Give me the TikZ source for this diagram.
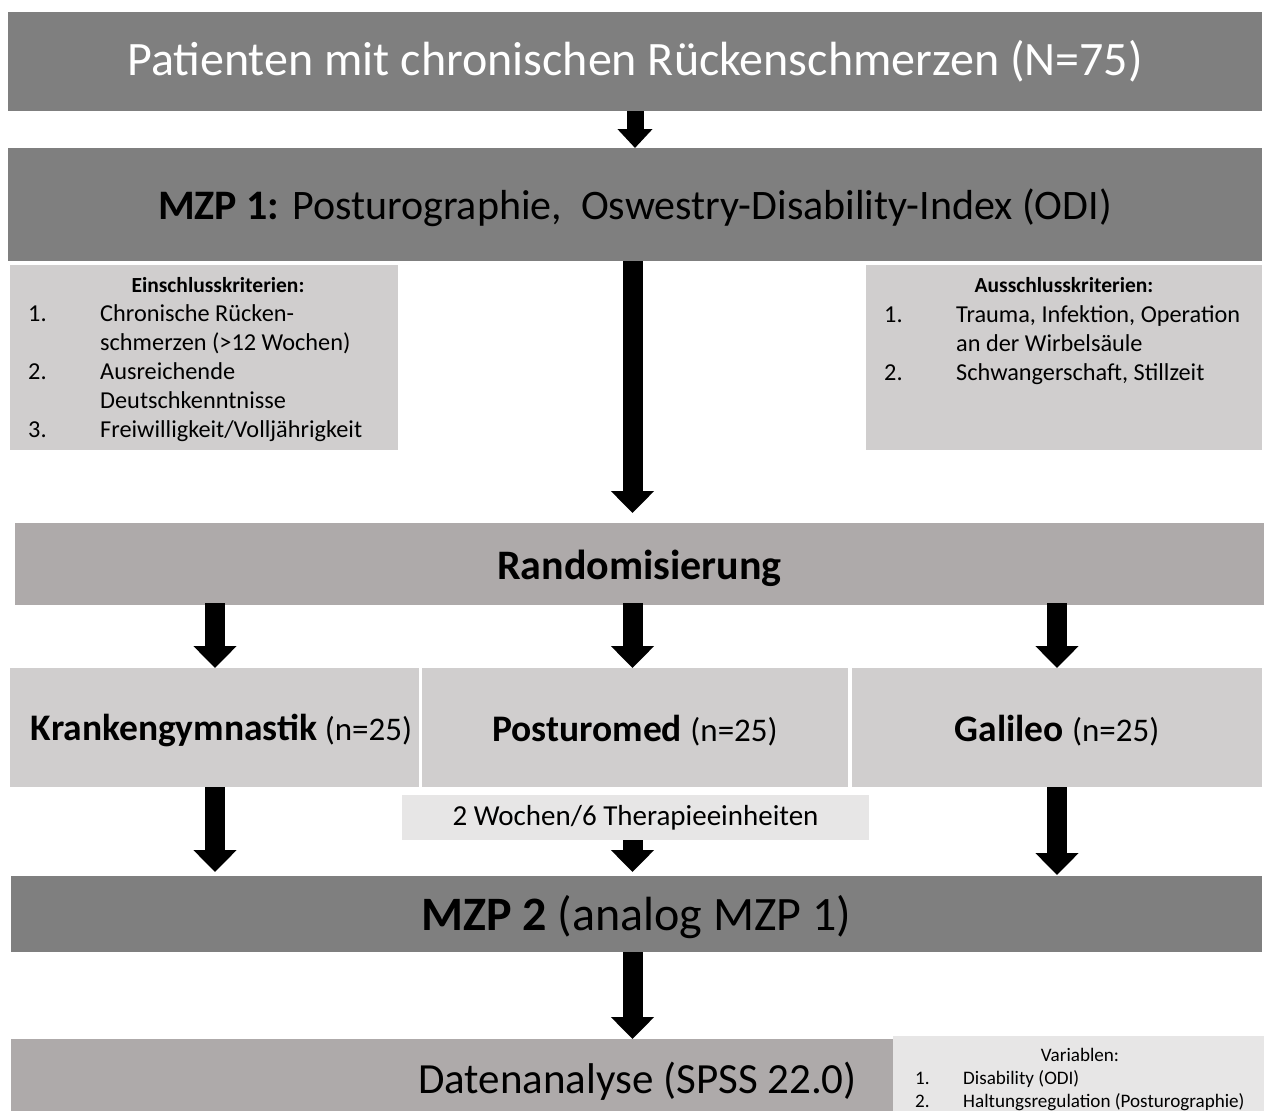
\documentclass[tikz,border=0pt]{standalone}
\usepackage{fontspec}
\setmainfont{Carlito}
\usetikzlibrary{arrows.meta}
\definecolor{cdark}{HTML}{7F7F7F}
\definecolor{cmid}{HTML}{AEAAAA}
\definecolor{clight}{HTML}{D0CECE}
\definecolor{cpale}{HTML}{E7E6E6}
\tikzset{
  box/.style={rectangle, inner sep=0pt, outer sep=0pt, anchor=north west, draw=none},
  txt/.style={anchor=center, inner sep=0pt},
  barrow/.style={line width=20pt, line cap=butt, -{Triangle[length=22pt,width=42pt]}},
  sarrow/.style={line width=17pt, line cap=butt, -{Triangle[length=19pt,width=34pt]}},
  lst/.style={anchor=base west, inner sep=0pt, font=\fontsize{24.3}{29}\selectfont},
  hdr/.style={anchor=center, inner sep=0pt, font=\bfseries\fontsize{21.5}{26}\selectfont},
  vlst/.style={anchor=base west, inner sep=0pt, font=\fontsize{19.1}{23}\selectfont},
  grp/.style={txt, font=\bfseries\fontsize{37.5}{45}\selectfont},
}
\newcommand{\nn}{{\mdseries\fontsize{33}{40}\selectfont(n=25)}}
\begin{document}
\begin{tikzpicture}[x=1pt,y=-1pt]
\useasboundingbox (0,0) rectangle (1264,1111);
\fill[white] (0,0) rectangle (1264,1111);

% boxes
\node[box, fill=cdark, minimum width=1254pt, minimum height=99pt] (top) at (8,12) {};
\node[txt, text=white, font=\fontsize{48}{58}\selectfont] (topt) at (top.center)
  {Patienten mit chronischen Rückenschmerzen (N=75)};
\node[box, fill=cdark, minimum width=1254pt, minimum height=113pt] (mzp1) at (8,148) {};
\node[txt, font=\fontsize{42}{50}\selectfont] (mzp1t) at ([yshift=-3pt]mzp1.center)
  {\textbf{MZP 1:} Posturographie,\ \ Oswestry-Disability-Index (ODI)};
\node[box, fill=clight, minimum width=388pt, minimum height=185pt] (ein) at (10,265) {};
\node[box, fill=clight, minimum width=396pt, minimum height=185pt] (aus) at (866,265) {};
\node[box, fill=cmid, minimum width=1249pt, minimum height=82pt] (rand) at (15,523) {};
\node[txt, font=\bfseries\fontsize{42}{50}\selectfont] (randt) at ([yshift=-4pt]rand.center)
  {Randomisierung};
\node[box, fill=clight, minimum width=409pt, minimum height=119pt] (g1) at (10,668) {};
\node[box, fill=clight, minimum width=426pt, minimum height=119pt] (g2) at (422,668) {};
\node[box, fill=clight, minimum width=410pt, minimum height=119pt] (g3) at (852,668) {};
\node[grp] (g1t) at ([xshift=7pt,yshift=-3pt]g1.center) {Krankengymnastik\hspace{0.2em}\nn};
\node[grp] (g2t) at ([yshift=-3pt]g2.center) {Posturomed \nn};
\node[grp] (g3t) at ([yshift=-3pt]g3.center) {Galileo \nn};
\node[box, fill=cpale, minimum width=467pt, minimum height=45pt,
  font=\fontsize{29}{35}\selectfont] (lab) at (402,795) {2 Wochen/6 Therapieeinheiten};
\node[box, fill=cdark, minimum width=1251pt, minimum height=76pt] (mzp2) at (11,876) {};
\node[txt, font=\fontsize{48}{58}\selectfont] (mzp2t) at ([yshift=-3pt]mzp2.center)
  {\textbf{MZP 2} (analog MZP 1)};
\node[box, fill=cmid, minimum width=1253pt, minimum height=72pt] (data) at (11,1039) {};
\node[txt, font=\fontsize{43}{52}\selectfont, text depth=4pt] (datat) at ([yshift=-5pt]data.center)
  {Datenanalyse (SPSS 22.0)};
\node[box, fill=cpale, minimum width=371pt, minimum height=76pt] (var) at (893,1036) {};

% Einschluss
\node[hdr] (einh) at (218,285) {Einschlusskriterien:};
\node[lst] (e1n) at (28,321) {1.};
\node[lst] (e1a) at (100,321) {Chronische Rücken-};
\node[lst] (e1b) at (100,350) {schmerzen (>12 Wochen)};
\node[lst] (e2n) at (28,379) {2.};
\node[lst] (e2a) at (100,379) {Ausreichende};
\node[lst] (e2b) at (100,408) {Deutschkenntnisse};
\node[lst] (e3n) at (28,437) {3.};
\node[lst] (e3a) at (100,437) {Freiwilligkeit/Volljährigkeit};

% Ausschluss
\node[hdr] (aush) at (1064,285) {Ausschlusskriterien:};
\node[lst] (a1n) at (884,322) {1.};
\node[lst] (a1a) at (956,322) {Trauma, Infektion, Operation};
\node[lst] (a1b) at (956,351) {an der Wirbelsäule};
\node[lst] (a2n) at (884,380) {2.};
\node[lst] (a2a) at (956,380) {Schwangerschaft, Stillzeit};

% Variablen
\node[anchor=center, inner sep=0pt, font=\fontsize{19.1}{23}\selectfont] (varh) at (1080,1055) {Variablen:};
\node[vlst] (v1n) at (915,1084) {1.};
\node[vlst] (v1a) at (963,1084) {Disability (ODI)};
\node[vlst] (v2n) at (915,1107) {2.};
\node[vlst] (v2a) at (963,1107) {Haltungsregulation (Posturographie)};

% arrow x positions
\coordinate (xc) at (632.5,0);
\coordinate (xl) at (215,0);
\coordinate (xr) at (1057,0);

% arrows
\draw[sarrow] (top.south) -- (mzp1.north);
\draw[barrow] (mzp1.south -| xc) -- ([yshift=10pt]rand.north -| xc);
\draw[barrow] ([yshift=2pt]rand.south -| xl) -- (g1.north -| xl);
\draw[barrow] ([yshift=2pt]rand.south -| xc) -- (g2.north -| xc);
\draw[barrow] ([yshift=2pt]rand.south -| xr) -- (g3.north -| xr);
\draw[barrow] (g1.south -| xl) -- ([yshift=4pt]mzp2.north -| xl);
\draw[barrow] (lab.south -| xc) -- ([yshift=4pt]mzp2.north -| xc);
\draw[barrow] (g3.south -| xr) -- ([yshift=1pt]mzp2.north -| xr);
\draw[barrow] (mzp2.south -| xc) -- (data.north -| xc);
\end{tikzpicture}
\end{document}
